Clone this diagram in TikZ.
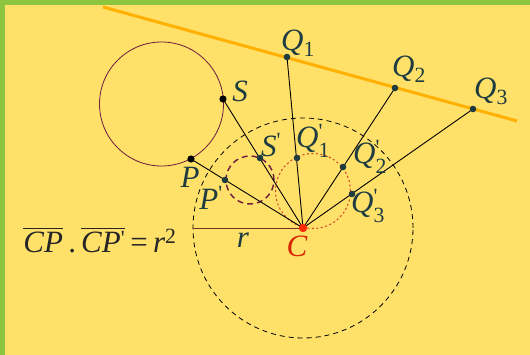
\documentclass[tikz,border=0pt]{standalone}
\usepackage{amsmath}
\usepackage{fontspec}
\setmainfont{Liberation Serif}
\usepackage{tikz}
\usetikzlibrary{calc}
\definecolor{bgyellow}{HTML}{FFE16A}
\definecolor{framegreen}{HTML}{8CC63F}
\definecolor{lineorange}{HTML}{FFB000}
\definecolor{inkteal}{HTML}{1E3C40}
\definecolor{circmaroon}{HTML}{6E1A3C}
\definecolor{dotred}{HTML}{D6402A}
\definecolor{cred}{HTML}{FF2A00}
\definecolor{radbrown}{HTML}{7A3020}
\newcommand{\primed}{\textsuperscript{\textquotesingle}}
\newcommand{\qpr}[1]{\textit{Q}$^{\text{\textquotesingle}}_{\text{#1}}$}

\begin{document}
\begin{tikzpicture}[
  x=1pt, y=-1pt,
  pt label/.style={text=inkteal, inner sep=0pt, font=\fontsize{31}{36}\selectfont},
  ray/.style={draw=black, line width=0.9pt},
  inv circle/.style={draw=black, line width=0.8pt, dash pattern=on 5pt off 4pt},
  >=stealth
]
  % frame and background
  \fill[framegreen] (0,0) rectangle (530,355);
  \fill[bgyellow] (5,5) rectangle (530,355);
  \useasboundingbox (0,0) rectangle (530,355);

  % points
  \coordinate (C)  at (303,228);
  \coordinate (R)  at (193,228);
  \coordinate (A)  at (103,7);
  \coordinate (B)  at (517,121);
  \coordinate (Q1) at (287,57);
  \coordinate (Q2) at (395,88);
  \coordinate (Q3) at (473,109);
  \coordinate (S)  at (223,99);
  \coordinate (P)  at (191,159);
  \coordinate (P') at (225,180);
  \coordinate (S') at (260,158);
  \coordinate (Q1') at (297,158);
  \coordinate (Q2') at (343,167);
  \coordinate (Q3') at (352,194);

  % circle of inversion
  \draw[inv circle] (C) circle[radius=110pt];
  \draw[radbrown, line width=0.9pt] (R) -- (C);

  % circle and its image
  \draw[circmaroon, line width=0.8pt] (161.5,104) circle[radius=62pt];
  \draw[circmaroon, line width=1.4pt, dash pattern=on 6pt off 4pt] (250,180) circle[radius=24pt];

  % line and its image
  \draw[lineorange, line width=3pt] (A) -- (B);
  \draw[dotred, line width=1pt, dash pattern=on 2pt off 2.5pt] (313,191) circle[radius=37.5pt];

  % rays from C
  \foreach \p in {P,S,Q1,Q2,Q3}
    \draw[ray] (C) -- (\p);

  % dots
  \foreach \p in {Q1,Q2,Q3,P',S',Q1',Q2',Q3'}
    \fill[inkteal] (\p) circle[radius=3.3pt];
  \fill[black] (P) circle[radius=3.6pt];
  \fill[black] (S) circle[radius=3.6pt];
  \fill[cred] (C) circle[radius=4.2pt];

  % labels
  \node[pt label] (lQ1) at (298,43) {\textit{Q}\textsubscript{1}};
  \node[pt label] (lQ2) at (409,69) {\textit{Q}\textsubscript{2}};
  \node[pt label] (lQ3) at (491,91) {\textit{Q}\textsubscript{3}};
  \node[pt label] (lS) at (240,91) {\textit{S}};
  \node[pt label] (lP) at (190,177) {\textit{P}};
  \node[pt label] (lP') at (211,198) {\textit{P}\primed};
  \node[pt label] (lS') at (271,145) {\textit{S}\primed};
  \node[pt label] (lQ1') at (313,141) {\qpr{1}};
  \node[pt label] (lQ2') at (370,157) {\qpr{2}};
  \node[pt label] (lQ3') at (368,206) {\qpr{3}};
  \node[pt label, text=cred!85!black] (lC) at (297,246) {\textit{C}};
  \node[pt label] (lr) at (243,240) {\textit{r}};
  \node[pt label, text=black!85] (rule) at (100,240)
    {$\overline{\textit{CP}}$\,.\,$\overline{\textit{CP}\primed}$\,=\,\textit{r}\textsuperscript{2}};
\end{tikzpicture}
\end{document}
